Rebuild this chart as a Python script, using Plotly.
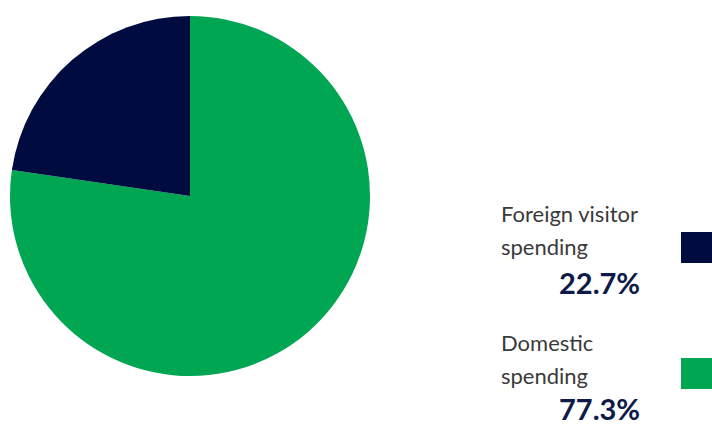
import plotly.graph_objects as go

# Spending split
labels = ["Foreign visitor spending", "Domestic spending"]
label_lines = [["Foreign visitor", "spending"], ["Domestic", "spending"]]
values = [22.7, 77.3]
colors = ["#000C40", "#00A652"]

W, H = 712, 427


def px(x):
    return x / W


def py(y):
    return 1 - y / H


# Domestic runs clockwise from 12 o'clock, so foreign spending ends at the top-left
fig = go.Figure()
fig.add_trace(go.Pie(
    labels=labels[::-1],
    values=values[::-1],
    sort=False,
    direction="clockwise",
    rotation=0,
    marker=dict(colors=colors[::-1], line=dict(width=0)),
    textinfo="none",
    hoverinfo="label+percent",
    showlegend=False,
    domain=dict(x=[px(10), px(370)], y=[py(376), py(16)]),
))

label_font = dict(family="Lato, sans-serif", size=22, color="#3a3a3a")
pct_font = dict(family="Lato, sans-serif", size=29, color="#0E1A48")

# Custom key: two text lines, bold percentage, colour swatch
block_tops = [213, 342]
for i, top in enumerate(block_tops):
    for j, line in enumerate(label_lines[i]):
        fig.add_annotation(
            x=px(499), y=py(top + j * 33), xref="paper", yref="paper",
            text=line, showarrow=False, xanchor="left", yanchor="middle",
            font=label_font,
        )
    # percentage box bottom, kept inside the page
    pct_bottom = min(top + 70 + 18, H)
    fig.add_annotation(
        x=px(641), y=py(pct_bottom), xref="paper", yref="paper",
        text=f"<b>{values[i]:.1f}%</b>", showarrow=False,
        xanchor="right", yanchor="bottom", font=pct_font, borderpad=0,
    )
    sq_top = top + 19 if i == 0 else top + 16
    fig.add_shape(
        type="rect", xref="paper", yref="paper",
        x0=px(681), x1=px(714), y0=py(sq_top + 31), y1=py(sq_top),
        fillcolor=colors[i], line=dict(width=0),
    )

fig.update_layout(
    width=W, height=H,
    margin=dict(l=0, r=0, t=0, b=0),
    paper_bgcolor="white",
    plot_bgcolor="white",
)

fig.write_html("out.html")
